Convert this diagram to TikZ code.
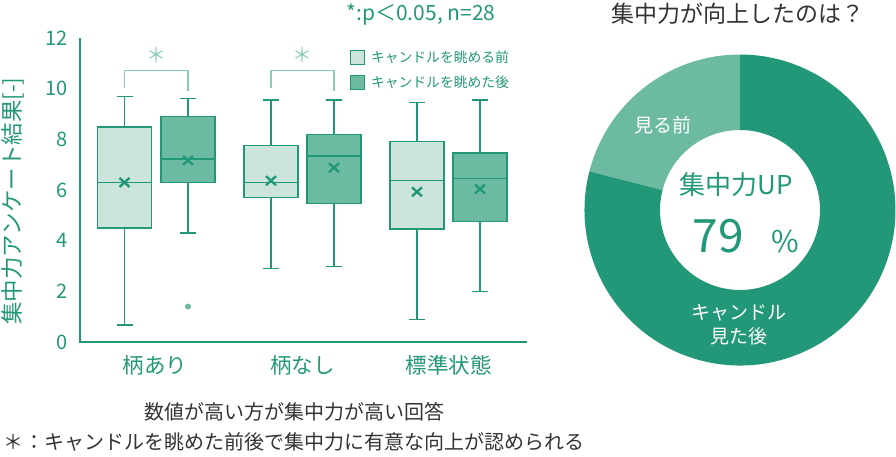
\documentclass[tikz,border=0pt]{standalone}
\usepackage{fontspec}
\setmainfont{Noto Sans CJK JP}
\usetikzlibrary{positioning}
\definecolor{candlegreen}{RGB}{35,152,120}
\definecolor{candlemid}{RGB}{109,186,163}
\definecolor{candlepale}{RGB}{203,229,221}
\definecolor{candlebrk}{RGB}{140,203,183}
\definecolor{notegray}{RGB}{51,51,51}
\tikzset{%
  boxpre/.style={draw=candlegreen, fill=candlepale, line width=1.6pt},
  boxpost/.style={draw=candlegreen, fill=candlemid, line width=1.6pt},
  whisk/.style={draw=candlegreen, line width=1.3pt},
  meanmark/.style={draw=candlegreen, line width=2.4pt},
  sigbrk/.style={draw=candlebrk, line width=1.3pt},
  ticklab/.style={text=candlegreen, anchor=east, inner sep=0pt, font=\fontsize{20}{20}\selectfont},
  catlab/.style={text=candlegreen, font=\fontsize{21.5}{22}\selectfont},
  legsq/.style={draw=candlegreen, line width=0.6pt, minimum width=14pt, minimum height=14pt, inner sep=0pt},
  legtxt/.style={text=candlegreen, font=\fontsize{13.8}{14}\selectfont, inner sep=0pt},
  notetxt/.style={text=notegray, font=\fontsize{20}{21}\selectfont},
  pielab/.style={text=white, font=\fontsize{19}{24}\selectfont, align=center}
}

\begin{document}
\begin{tikzpicture}[x=1pt, y=-1pt]
\useasboundingbox (0,0) rectangle (896,456);

% boxplot, y in score units
\begin{scope}[shift={(0,342)}, y=25.33pt]
  \draw[candlegreen, line width=1.3pt] (80,12) -- (80,0) -- (527,0);
  \foreach \v in {0,2,4,6,8,10,12} {
    \node[ticklab] (tick\v) at (68,\v) {\v};
  }

  \foreach \x/\lo/\qa/\md/\qb/\hi/\mn/\sty in {
      124.5/0.67/4.5/6.3/8.5/9.7/6.3/boxpre,
      188/4.3/6.3/7.23/8.9/9.6/7.17/boxpost,
      271/2.9/5.7/6.3/7.75/9.55/6.37/boxpre,
      334/2.97/5.47/7.35/8.2/9.55/6.88/boxpost,
      417/0.9/4.47/6.37/7.92/9.45/5.93/boxpre,
      480/1.99/4.75/6.46/7.47/9.55/6.04/boxpost} {
    \draw[whisk] (\x,\lo) -- (\x,\qa);
    \draw[whisk] (\x,\qb) -- (\x,\hi);
    \draw[whisk] (\x-8,\lo) -- (\x+8,\lo);
    \draw[whisk] (\x-8,\hi) -- (\x+8,\hi);
    \draw[\sty] (\x-27,\qa) rectangle (\x+27,\qb);
    \draw[\sty] (\x-27,\md) -- (\x+27,\md);
    \draw[meanmark] (\x,\mn) ++(-5pt,-4.5pt) -- ++(10pt,9pt);
    \draw[meanmark] (\x,\mn) ++(-5pt,4.5pt) -- ++(10pt,-9pt);
  }
  \fill[candlemid] (188,1.4) circle[radius=3pt];

  % significance
  \draw[sigbrk] (124.5,10.03) -- (124.5,10.71) -- (188,10.71) -- (188,9.9);
  \draw[sigbrk] (271,10.03) -- (271,10.71) -- (334,10.71) -- (334,9.9);
  \node[text=candlebrk, font=\fontsize{20}{20}\selectfont] (sigA) at (156.5,11.35) {＊};
  \node[text=candlebrk, font=\fontsize{20}{20}\selectfont] (sigB) at (302.5,11.35) {＊};
\end{scope}

\node[catlab] (catA) at (155,365) {柄あり};
\node[catlab] (catB) at (302.5,365) {柄なし};
\node[catlab] (catC) at (448.5,365) {標準状態};

\node[rotate=90, text=candlegreen, font=\fontsize{22.5}{23}\selectfont] (ylab) at (13,201) {集中力アンケート結果[-]};
\node[text=candlegreen, font=\fontsize{21}{21}\selectfont] (pnote) at (421,15) {*:p＜0.05, n=28};

% legend
\node[legsq, fill=candlepale] (legpre) at (357.5,57) {};
\node[legsq, fill=candlemid] (legpost) at (357.5,82.5) {};
\node[legtxt, right=6pt of legpre] (legpretxt) {キャンドルを眺める前};
\node[legtxt, right=6pt of legpost] (legposttxt) {キャンドルを眺めた後};

\node[notetxt] (noteA) at (294,412) {数値が高い方が集中力が高い回答};
\node[notetxt] (noteB) at (294,442) {＊：キャンドルを眺めた前後で集中力に有意な向上が認められる};

% donut
\node[text=notegray, font=\fontsize{23}{24}\selectfont] (pietitle) at (738,14) {集中力が向上したのは？};
\begin{scope}[shift={(740,210)}, y=1pt]
  \fill[candlemid] (90:155.5) arc[start angle=90, end angle=165.6, radius=155.5]
    -- (165.6:80) arc[start angle=165.6, end angle=90, radius=80] -- cycle;
  \fill[candlegreen] (165.6:155.5) arc[start angle=165.6, end angle=450, radius=155.5]
    -- (90:80) arc[start angle=450, end angle=165.6, radius=80] -- cycle;
\end{scope}
\node[pielab] (pieB) at (663,125) {見る前};
\node[pielab] (pieA) at (739,325) {キャンドル\\見た後};
\node[text=candlegreen, font=\fontsize{26}{26}\selectfont] (upA) at (736,185) {集中力UP};
\node[text=candlegreen, font=\fontsize{46}{46}\selectfont] (upB) at (718,236) {79};
\node[text=candlegreen, font=\fontsize{30}{30}\selectfont] (upC) at (785,241) {\%};
\end{tikzpicture}
\end{document}
